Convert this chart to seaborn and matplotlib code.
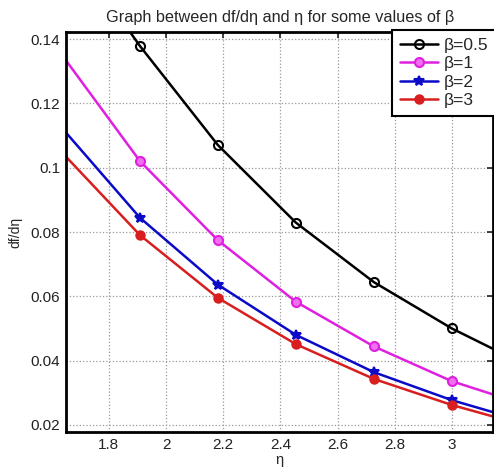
import numpy as np
import pandas as pd
import matplotlib
matplotlib.use("Agg")
import matplotlib.pyplot as plt
import seaborn as sns

# eta grid (markers sit on the inner points)
eta = [1.6364, 1.9091, 2.1818, 2.4545, 2.7273, 3.0000, 3.1818]

# df/deta for each beta
beta_05 = [0.1720, 0.1378, 0.1070, 0.0829, 0.0644, 0.0500, 0.0420]
beta_1 = [0.1350, 0.1020, 0.0774, 0.0583, 0.0444, 0.0336, 0.0284]
beta_2 = [0.1123, 0.0844, 0.0636, 0.0480, 0.0364, 0.0277, 0.0230]
beta_3 = [0.1047, 0.0790, 0.0595, 0.0451, 0.0343, 0.0262, 0.0217]

labels = ["β=0.5", "β=1", "β=2", "β=3"]
series = [beta_05, beta_1, beta_2, beta_3]
colors = ["#000000", "#e020e0", "#0a0ac8", "#d81e1e"]
markers = ["o", "o", "*", "o"]
mfcs = ["none", "#f070f0", "#0a0ac8", "#d81e1e"]
msizes = [6.5, 6.5, 7.5, 6]

xticks = [1.8, 2.0, 2.2, 2.4, 2.6, 2.8, 3.0]
xticklabels = ["1.8", "2", "2.2", "2.4", "2.6", "2.8", "3"]
yticks = [0.02, 0.04, 0.06, 0.08, 0.10, 0.12, 0.14]
yticklabels = ["0.02", "0.04", "0.06", "0.08", "0.1", "0.12", "0.14"]

sns.set_theme(style="white")
plt.rcParams["font.family"] = ["Liberation Sans", "DejaVu Sans"]

fig = plt.figure(figsize=(4.94, 4.68), dpi=100)
ax = fig.add_axes([0.1336, 0.0769, 0.8650, 0.8547])

for lab, vals, c, m, fc, ms in zip(labels, series, colors, markers, mfcs, msizes):
    df = pd.DataFrame({"eta": eta, "val": vals})
    sns.lineplot(data=df, x="eta", y="val", ax=ax, color=c, linewidth=1.8,
                 marker=m, markersize=ms, markerfacecolor=fc,
                 markeredgecolor=c, markeredgewidth=1.5,
                 markevery=[1, 2, 3, 4, 5], label=lab, clip_on=True)

ax.set_xlim(1.65, 3.145)
ax.set_ylim(0.0178, 0.1422)
ax.set_xticks(xticks)
ax.set_xticklabels(xticklabels)
ax.set_yticks(yticks)
ax.set_yticklabels(yticklabels)
ax.tick_params(direction="in", length=4, width=1.2, top=True, right=True,
               labelsize=11, colors="#222222", pad=4)
ax.tick_params(axis="x", labeltop=False)
ax.tick_params(axis="y", labelright=False)

ax.grid(True, color="#999999", linestyle=":", linewidth=0.9)
for sp in ax.spines.values():
    sp.set_visible(True)
    sp.set_color("black")
    sp.set_linewidth(2)

ax.set_xlabel("η", fontsize=10.5, labelpad=1)
ax.set_ylabel("df/dη", fontsize=10, labelpad=6)
ax.set_title("Graph between df/dη and η for some values of β", fontsize=11.7, pad=7)

leg = ax.legend(loc="upper right", bbox_to_anchor=(1.006, 1.006), fontsize=12.5,
                frameon=True, fancybox=False, handlelength=2.2,
                handletextpad=0.3, borderpad=0.45, labelspacing=0.2,
                borderaxespad=0.0)
leg.get_frame().set_edgecolor("black")
leg.get_frame().set_linewidth(1.5)
leg.get_frame().set_alpha(1)

fig.savefig("out.png", dpi=100)
